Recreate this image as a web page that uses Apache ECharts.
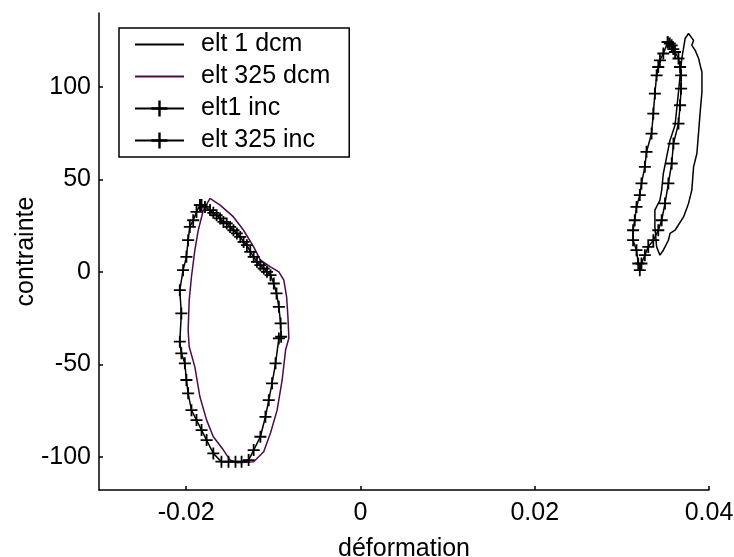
<!DOCTYPE html>
<html>
<head>
<meta charset="utf-8">
<script src="https://cdn.jsdelivr.net/npm/echarts@6/dist/echarts.min.js"></script>
<style>html,body{margin:0;padding:0;background:#fff}#c{width:734px;height:557px}</style>
</head>
<body>
<div id="c"></div>
<script>
// Axis ticks
const xTicks = [-0.02, 0, 0.02, 0.04];
const yTicks = [-100, -50, 0, 50, 100];
const seriesNames = ['elt 1 dcm', 'elt 325 dcm', 'elt1 inc', 'elt 325 inc'];

// elt 1 dcm (right loop, thin black)
const elt1DcmX = [0.03765,0.03823,0.03803,0.03842,0.03881,0.03899,0.03919,0.03919,0.03899,0.03881,0.03861,0.03823,0.03803,0.03765,0.03708,0.03610,0.03553,0.03534,0.03476,0.03437,0.03399,0.03379,0.03379,0.03437,0.03457,0.03476,0.03514,0.03553,0.03610,0.03650,0.03688,0.03726,0.03765];
const elt1DcmY = [128.9,125.2,122.5,119.8,115.4,111.7,108.1,97.3,86.5,75.7,64.0,56.8,44.2,37.0,29.7,22.5,20.8,17.1,11.7,9.0,13.5,24.3,33.4,38.8,44.2,53.2,62.2,71.2,79.3,97.3,115.4,126.2,128.9];

// elt 325 dcm (left loop, purple)
const elt325DcmX = [-0.01726,-0.01610,-0.01457,-0.01341,-0.01225,-0.01148,-0.01032,-0.00936,-0.00879,-0.00847,-0.00832,-0.00821,-0.00859,-0.00898,-0.00956,-0.01032,-0.01110,-0.01225,-0.01418,-0.01495,-0.01572,-0.01688,-0.01765,-0.01842,-0.01900,-0.01965,-0.01977,-0.01965,-0.01939,-0.01900,-0.01861,-0.01803,-0.01726];
const elt325DcmY = [39.7,36.1,29.7,22.5,13.5,6.3,2.7,0,-4.5,-13.5,-24.3,-35.8,-42.3,-58.5,-74.8,-87.2,-97.3,-102.7,-103.2,-101.8,-96.4,-89.2,-80.2,-67.6,-51.4,-40.5,-31.5,-15.3,-2.7,11.7,22.5,33.4,39.7];

// elt1 inc (right loop, black with + markers)
const elt1IncX = [0.03526,0.03476,0.03437,0.03418,0.03399,0.03379,0.03361,0.03341,0.03283,0.03264,0.03225,0.03206,0.03168,0.03148,0.03129,0.03129,0.03168,0.03188,0.03206,0.03225,0.03264,0.03303,0.03361,0.03418,0.03457,0.03495,0.03534,0.03572,0.03592,0.03650,0.03668,0.03680,0.03680,0.03668,0.03650,0.03610,0.03590,0.03572,0.03550,0.03526];
const elt1IncY = [124.2,118.1,114.4,110.8,106.3,96.4,85.6,74.8,64.9,56.8,47.8,41.5,35.1,27.9,22.5,17.1,11.7,4.5,0.9,4.5,9.0,13.5,17.1,22.5,27.9,37.0,47.8,58.6,69.4,80.2,90.1,99.1,106.3,110.8,115.4,118.9,120.5,122.5,123.5,124.2];

// elt 325 inc (left loop, black with + markers)
const elt325IncX = [-0.01842,-0.01823,-0.01784,-0.01726,-0.01688,-0.01650,-0.01610,-0.01572,-0.01534,-0.01495,-0.01457,-0.01418,-0.01379,-0.01341,-0.01303,-0.01264,-0.01225,-0.01187,-0.01148,-0.01110,-0.01072,-0.01032,-0.00994,-0.00963,-0.00936,-0.00916,-0.00910,-0.00936,-0.00974,-0.01014,-0.01052,-0.01090,-0.01148,-0.01225,-0.01283,-0.01364,-0.01434,-0.01514,-0.01595,-0.01688,-0.01765,-0.01823,-0.01881,-0.01939,-0.01977,-0.01997,-0.02015,-0.02055,-0.02073,-0.02055,-0.02073,-0.02035,-0.01997,-0.01977,-0.01958,-0.01919,-0.01881,-0.01842];
const elt325IncY = [36.1,36.1,35.1,33.4,31.9,30.6,28.9,27.0,26.2,24.3,22.5,20.8,18.9,16.2,14.4,10.8,8.1,5.4,3.6,1.8,0,-1.8,-6.3,-11.7,-18.9,-27.9,-35.1,-36.0,-49.5,-60.3,-69.4,-78.4,-89.2,-96.4,-101.8,-102.7,-102.7,-102.7,-102.7,-98.2,-91.0,-85.6,-80.2,-74.8,-65.7,-58.5,-49.5,-44.1,-37.8,-22.5,-9.9,0.9,8.1,17.1,24.3,27.9,32.4,36.1];

const zip = (xs, ys) => xs.map((x, i) => [x, ys[i]]);
const plus = 'path://M0,5.1H12V6.9H0Z M5.1,0H6.9V12H5.1Z';
const FONT = 'Liberation Sans, Arial, sans-serif';
const FS = 25;

const chart = echarts.init(document.getElementById('c'), null, {renderer: 'canvas'});
chart.setOption({
  animation: false,
  backgroundColor: '#fff',
  grid: {left: 99, right: 25, top: 13, bottom: 67, containLabel: false, outerBoundsMode: 'none'},
  legend: {
    orient: 'vertical', left: 119, top: 28,
    padding: [4, 19, 4, 15],
    itemWidth: 49, itemHeight: 20, itemGap: 7,
    borderColor: '#000', borderWidth: 1.5,
    backgroundColor: '#fff',
    data: [
      {name: seriesNames[0], itemStyle: {opacity: 0}},
      {name: seriesNames[1], itemStyle: {opacity: 0}},
      {name: seriesNames[2]},
      {name: seriesNames[3]}
    ],
    textStyle: {fontFamily: FONT, fontSize: FS, color: '#000', padding: [0, 0, 0, 12]}
  },
  xAxis: {
    type: 'value', min: -0.03, max: 0.04,
    name: 'déformation', nameLocation: 'middle', nameGap: 47, nameMoveOverlap: false,
    nameTextStyle: {fontFamily: FONT, fontSize: FS, color: '#000'},
    axisLine: {show: true, onZero: false, lineStyle: {color: '#000', width: 1.5}},
    axisTick: {show: true, inside: true, length: 4, customValues: xTicks, lineStyle: {color: '#000', width: 1.5}},
    axisLabel: {customValues: xTicks, fontFamily: FONT, fontSize: FS, color: '#000', margin: 11,
      formatter: v => String(v)},
    splitLine: {show: false}
  },
  yAxis: {
    type: 'value', min: -118, max: 140,
    name: 'contrainte', nameLocation: 'middle', nameGap: 60, nameRotate: 90, nameMoveOverlap: false,
    nameTextStyle: {fontFamily: FONT, fontSize: FS, color: '#000'},
    axisLine: {show: true, onZero: false, lineStyle: {color: '#000', width: 1.5}},
    axisTick: {show: true, inside: true, length: 4, customValues: yTicks, lineStyle: {color: '#000', width: 1.5}},
    axisLabel: {customValues: yTicks, fontFamily: FONT, fontSize: FS, color: '#000', margin: 8},
    splitLine: {show: false}
  },
  series: [
    {name: seriesNames[0], type: 'line', data: zip(elt1DcmX, elt1DcmY), showSymbol: false, symbol: 'none',
      lineStyle: {color: '#000', width: 1.5}, itemStyle: {color: '#000'}},
    {name: seriesNames[1], type: 'line', data: zip(elt325DcmX, elt325DcmY), showSymbol: false, symbol: 'none',
      lineStyle: {color: '#4d0a4d', width: 1.5}, itemStyle: {color: '#4d0a4d'}},
    {name: seriesNames[2], type: 'line', data: zip(elt1IncX, elt1IncY), symbol: plus, symbolSize: 12, showSymbol: true,
      lineStyle: {color: '#000', width: 1.5}, itemStyle: {color: '#000'}},
    {name: seriesNames[3], type: 'line', data: zip(elt325IncX, elt325IncY), symbol: plus, symbolSize: 12, showSymbol: true,
      lineStyle: {color: '#000', width: 1.5}, itemStyle: {color: '#000'}}
  ]
});
</script>
</body>
</html>
